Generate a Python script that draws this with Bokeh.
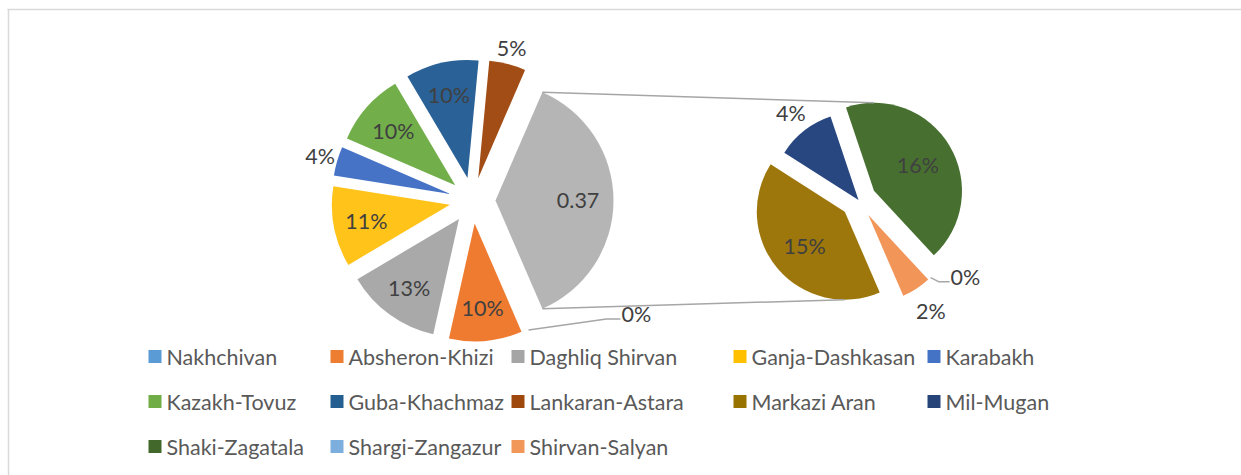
import numpy as np
from bokeh.plotting import figure
from bokeh.models import Range1d, ColumnDataSource
from bokeh.core.properties import value
from bokeh.embed import file_html
from bokeh.resources import INLINE

# ---------------- data ----------------
main_regions = ["Nakhchivan", "Absheron-Khizi", "Daghliq Shirvan", "Ganja-Dashkasan",
                "Karabakh", "Kazakh-Tovuz", "Guba-Khachmaz", "Lankaran-Astara"]
main_shares = [0.00, 0.10, 0.13, 0.11, 0.04, 0.10, 0.10, 0.05]
main_labels = ["0%", "10%", "13%", "11%", "4%", "10%", "10%", "5%"]

sub_regions = ["Markazi Aran", "Mil-Mugan", "Shaki-Zagatala", "Shargi-Zangazur", "Shirvan-Salyan"]
sub_shares = [0.15, 0.04, 0.16, 0.00, 0.02]
sub_labels = ["15%", "4%", "16%", "0%", "2%"]
other_label = "0.37"

# ---------------- styles ----------------
main_colors = ["#5B9BD5", "#EE7B30", "#A9A9A9", "#FFC31A", "#4673C6", "#72AE4A", "#2A6197", "#A24D16"]
other_color = "#B5B5B5"
sub_colors = ["#9E770C", "#284680", "#477030", "#7CAFDD", "#F29558"]
legend_colors = ["#5B9BD5", "#ED7D31", "#A5A5A5", "#FFC000", "#4472C4", "#70AD47", "#255E91",
                 "#9E480E", "#997300", "#264478", "#43682B", "#7CAFDD", "#F1975A"]

main_explode = [23] * 8
other_explode = 23
sub_explode = [18, 0, 18, 18, 18]
main_label_r = [None, 0.72, 0.72, 0.72, 1.15, 0.70, 0.72, 1.14]
other_label_r = 0.70
sub_label_r = [0.60, 1.25, 0.58, None, 1.30]

W, H = 1241, 475
C1 = (472.0, H - 200.0)
R1 = 118.0
C2 = (858.0, H - 199.5)
R2 = 88.0
LABEL_FONT = value("Lato")
LABEL_SIZE = "21.5px"
LABEL_COLOR = "#404040"
LEG_COLOR = "#595959"

p = figure(width=W, height=H, x_range=Range1d(0, W), y_range=Range1d(0, H),
           min_border=0, toolbar_location=None, output_backend="svg",
           x_axis_type=None, y_axis_type=None, outline_line_color=None)
p.background_fill_color = "white"
p.border_fill_color = "white"

# chart border (top + left)
p.segment(x0=[7, 8], y0=[H - 9, H - 9], x1=[W, 8], y1=[H - 9, 0], line_color="#D9D9D9", line_width=1.5)

other = sum(sub_shares)
theta0 = -other * np.pi  # ccw edge of first main slice, slices run clockwise

def slices(shares, start, center, explode):
    total = sum(shares)
    cum = 0.0
    out = []
    for f, d in zip(shares, explode):
        a0 = start - cum / total * 2 * np.pi
        a1 = a0 - f / total * 2 * np.pi
        mid = (a0 + a1) / 2
        cx = center[0] + d * np.cos(mid)
        cy = center[1] + d * np.sin(mid)
        out.append((cx, cy, a1, a0, mid, f))
        cum += f
    return out

main_geom = slices(main_shares + [other], theta0, C1, main_explode + [other_explode])
sub_geom = slices(sub_shares, theta0, C2, sub_explode)
mg = main_geom[:-1]
og = main_geom[-1]

def wedge_src(geom, colors):
    keep = [(g, c) for g, c in zip(geom, colors) if g[5] > 0]
    return ColumnDataSource(dict(
        x=[g[0] for g, _ in keep], y=[g[1] for g, _ in keep],
        s=[g[2] for g, _ in keep], e=[g[3] for g, _ in keep], c=[c for _, c in keep]))

p.wedge(x="x", y="y", radius=R1, start_angle="s", end_angle="e", fill_color="c",
        line_color=None, source=wedge_src(mg, main_colors))
p.wedge(x="x", y="y", radius=R1, start_angle="s", end_angle="e", fill_color="c",
        line_color=None, source=wedge_src([og], [other_color]))
p.wedge(x="x", y="y", radius=R2, start_angle="s", end_angle="e", fill_color="c",
        line_color=None, source=wedge_src(sub_geom, sub_colors))

# connector lines: other slice corners -> top / bottom of sub pie
def arc_pt(g, r, ang):
    return g[0] + r * np.cos(ang), g[1] + r * np.sin(ang)

def slice_at(geom, ang):
    for g in geom:
        lo, hi = g[2], g[3]
        if hi <= lo:
            continue
        a = ang
        while a < lo:
            a += 2 * np.pi
        while a > hi:
            a -= 2 * np.pi
        if lo <= a <= hi:
            return g
    return geom[0]

top_o = arc_pt(og, R1, og[3])
bot_o = arc_pt(og, R1, og[2])
top_s = arc_pt(slice_at(sub_geom, np.pi / 2), R2, np.pi / 2)
bot_s = arc_pt(slice_at(sub_geom, -np.pi / 2), R2, -np.pi / 2)
p.segment(x0=[top_o[0], bot_o[0]], y0=[top_o[1], bot_o[1]],
          x1=[top_s[0], bot_s[0]], y1=[top_s[1], bot_s[1]],
          line_color="#A6A6A6", line_width=1.5)

# data labels
lx, ly, lt = [], [], []
for g, r, t in zip(mg, main_label_r, main_labels):
    if r is None:
        continue
    lx.append(g[0] + r * R1 * np.cos(g[4])); ly.append(g[1] + r * R1 * np.sin(g[4])); lt.append(t)
lx.append(og[0] + other_label_r * R1 * np.cos(og[4])); ly.append(og[1] + other_label_r * R1 * np.sin(og[4])); lt.append(other_label)
for g, r, t in zip(sub_geom, sub_label_r, sub_labels):
    if r is None:
        continue
    lx.append(g[0] + r * R2 * np.cos(g[4])); ly.append(g[1] + r * R2 * np.sin(g[4])); lt.append(t)
p.text(x=lx, y=ly, text=lt, text_font=LABEL_FONT, text_font_size=LABEL_SIZE,
       text_color=LABEL_COLOR, text_align="center", text_baseline="middle")

# zero-slice labels with leader lines
zero_items = []
for g, r, t in zip(mg, main_label_r, main_labels):
    if r is None:
        zero_items.append((arc_pt(g, R1, g[4]), (78, 11), (14, 0), t))
for g, r, t in zip(sub_geom, sub_label_r, sub_labels):
    if r is None:
        zero_items.append((arc_pt(g, R2, g[4]), (8, -4), (11, 0), t))
for start, el, ext, t in zero_items:
    ex, ey = start[0] + el[0], start[1] + el[1]
    fx, fy = ex + ext[0], ey + ext[1]
    p.line(x=[start[0], ex, fx], y=[start[1], ey, fy], line_color="#A6A6A6", line_width=1.5)
    p.text(x=[fx + 1], y=[fy + 5], text=[t], text_font=LABEL_FONT, text_font_size=LABEL_SIZE,
           text_color=LABEL_COLOR, text_align="left", text_baseline="middle")

# legend
legend_names = main_regions + sub_regions
col_x = [148, 330, 511, 733, 927]
row_y = [H - 356, H - 401, H - 446]
mx, my, tx = [], [], []
for i, name in enumerate(legend_names):
    r, c = divmod(i, 5)
    mx.append(col_x[c] + 6.5); my.append(row_y[r])
    tx.append(col_x[c] + 18)
p.rect(x=mx, y=my, width=13, height=13, fill_color=legend_colors, line_color=None)
p.text(x=tx, y=my, text=legend_names, text_font=LABEL_FONT, text_font_size=LABEL_SIZE,
       text_color=LEG_COLOR, text_align="left", text_baseline="middle")

open("out.html", "w").write(file_html(p, INLINE))
